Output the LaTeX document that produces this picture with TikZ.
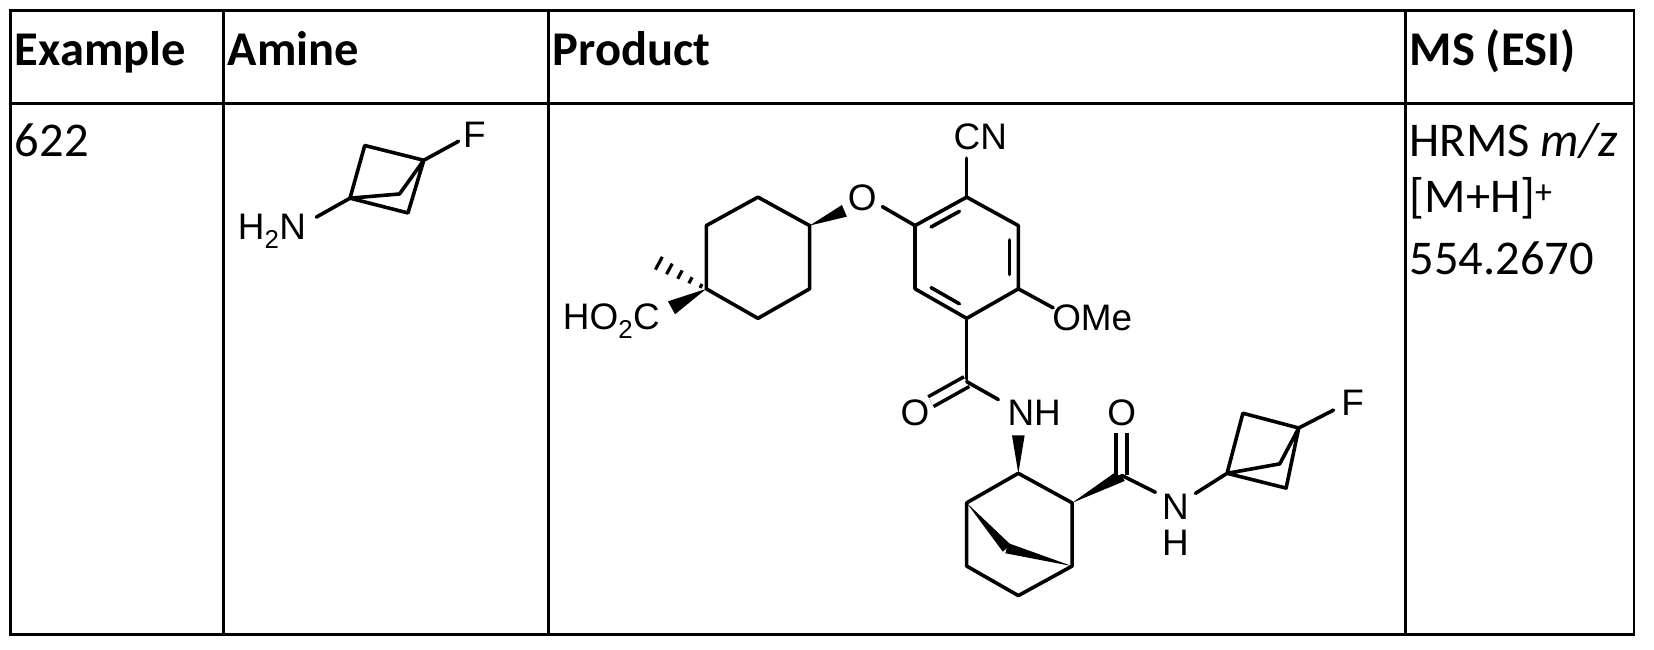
\documentclass[tikz,border=0pt]{standalone}
\usepackage{fontspec}
\setmainfont{Carlito}
\newfontfamily\chem{Liberation Sans}
\usetikzlibrary{calc}
\newcommand{\wedgebond}[3]{\fill ($(#1)$) -- ($(#2)!#3!90:(#1)$) -- ($(#2)!#3!-90:(#1)$) -- cycle;}
\newcommand{\hashbond}[2]{\foreach \t in {0.1,0.3,0.5,0.7,0.9}{\pgfmathsetmacro{\hw}{1.5+6*\t}\draw[line width=3pt] ($($(#1)!\t!(#2)$)!\hw pt!90:(#2)$) -- ($($(#1)!\t!(#2)$)!\hw pt!-90:(#2)$);}}
\newcommand{\innerbond}[3]{\draw[bond] ($($(#1)!0.17!(#2)$)!0.17!(#3)$) -- ($($(#1)!0.83!(#2)$)!0.17!(#3)$);}
\begin{document}
\begin{tikzpicture}[x=1pt,y=-1pt,
  grid/.style={line width=2.6pt},
  bond/.style={line width=3.4pt,line cap=round,line join=round},
  dbl/.style={line width=3.4pt,double distance=7pt},
  hdr/.style={anchor=base west,font=\fontsize{46}{50}\selectfont\bfseries,inner sep=0},
  txt/.style={anchor=base west,font=\fontsize{46}{50}\selectfont,inner sep=0},
  lab/.style={font=\chem\fontsize{35}{38}\selectfont,inner sep=0}]
\useasboundingbox (0,0) rectangle (1569,616);
% table
\draw[grid] (10,10) rectangle (1550,602);
\draw[grid] (10,98) -- (1550,98);
\foreach \x in {212,520,1333} \draw[grid] (\x,10) -- (\x,602);
\node[hdr] (h1) at (14,62) {Example};
\node[hdr] (h2) at (216,62) {Amine};
\node[hdr] (h3) at (524,62) {Product};
\node[hdr] (h4) at (1337,62) {MS (ESI)};
\node[txt] (ex) at (14,148) {622};
\node[txt] (ms1) at (1337,148) {HRMS \textit{m/z}};
\node[txt] (ms2) at (1337,202) {[M+H]\textsuperscript{+}};
\node[txt] (ms3) at (1337,260) {554.2670};
% amine
\coordinate (a1) at (332,188); \coordinate (a2) at (346,138); \coordinate (a3) at (402,152);
\coordinate (a4) at (379,184); \coordinate (a5) at (387,202);
\coordinate (aF) at (435,134); \coordinate (aN) at (300,206);
\node[lab] (aFl) at (450,128) {F};
\node[lab] (aNl) at (258,219) {H\textsubscript{2}N};
\draw[bond] (a1)--(a2)--(a3)--(a4)--(a1)--(a5)--(a3)--(aF);
\draw[bond] (a1)--(aN);
% cyclohexane
\coordinate (ca) at (719,187); \coordinate (cb) at (768,214); \coordinate (cc) at (768,274);
\coordinate (cd) at (719,302); \coordinate (ce) at (670,274); \coordinate (cf) at (670,214);
\draw[bond] (ca)--(cb)--(cc)--(cd)--(ce)--(cf)--cycle;
\node[lab] (O1) at (818,188) {O};
\coordinate (wO) at (801,200);
\wedgebond{cb}{wO}{6pt}
\coordinate (me) at (620,247);
\hashbond{ce}{me}
\coordinate (wC) at (637,292);
\wedgebond{ce}{wC}{7pt}
\node[lab] (acid) at (580,305) {HO\textsubscript{2}C};
% aromatic
\coordinate (r1) at (868,214); \coordinate (r2) at (917,187); \coordinate (r3) at (966,214);
\coordinate (r4) at (966,274); \coordinate (r5) at (917,302); \coordinate (r6) at (868,274);
\coordinate (rc) at (917,244);
\draw[bond] (r1)--(r2)--(r3)--(r4)--(r5)--(r6)--cycle;
\innerbond{r1}{r2}{rc}\innerbond{r3}{r4}{rc}\innerbond{r5}{r6}{rc}
\coordinate (oR) at (837,196); \draw[bond] (oR)--(r1);
\node[lab] (CN) at (930,130) {CN};
\coordinate (cnE) at (917,150); \draw[bond] (r2)--(cnE);
\coordinate (omE) at (999,292); \draw[bond] (r4)--(omE);
\node[lab,anchor=west] (OMe) at (998,301) {OMe};
% amide 1
\coordinate (k1) at (917,362); \draw[bond] (r5)--(k1);
\coordinate (k1O) at (883,381); \draw[dbl] (k1)--(k1O);
\node[lab] (O2) at (868,392) {O};
\coordinate (k1N) at (947,379); \draw[bond] (k1)--(k1N);
\node[lab] (NH1) at (981,392) {NH};
% norbornane
\coordinate (n1) at (966,449); \coordinate (n2) at (1017,477); \coordinate (n3) at (917,477);
\coordinate (n4) at (917,537); \coordinate (n5) at (966,565); \coordinate (n6) at (1017,537);
\coordinate (nb) at (955,520);
\draw[bond] (n3)--(n1)--(n2)--(n6)--(n5)--(n4)--(n3);
\coordinate (wN) at (966,413);
\wedgebond{n1}{wN}{6pt}
\wedgebond{n3}{nb}{5pt}
\wedgebond{n6}{nb}{5pt}
% amide 2
\coordinate (k2) at (1064,451);
\wedgebond{n2}{k2}{6pt}
\coordinate (k2O) at (1064,411); \draw[dbl] (k2)--(k2O);
\node[lab] (O3) at (1064,392) {O};
\coordinate (k2N) at (1096,467); \draw[bond] (k2)--(k2N);
\node[lab] (N2) at (1115,481) {N};
\node[lab] (H2) at (1115,515) {H};
\coordinate (k3N) at (1134,468);
% BCP
\coordinate (b1) at (1164,449); \coordinate (b2) at (1179,392); \coordinate (b3) at (1232,406);
\coordinate (b4) at (1214,440); \coordinate (b5) at (1220,463); \coordinate (bF) at (1265,389);
\draw[bond] (k3N)--(b1)--(b2)--(b3)--(b4)--(b1)--(b5)--(b3)--(bF);
\node[lab] (F2) at (1283,382) {F};
\end{tikzpicture}
\end{document}
